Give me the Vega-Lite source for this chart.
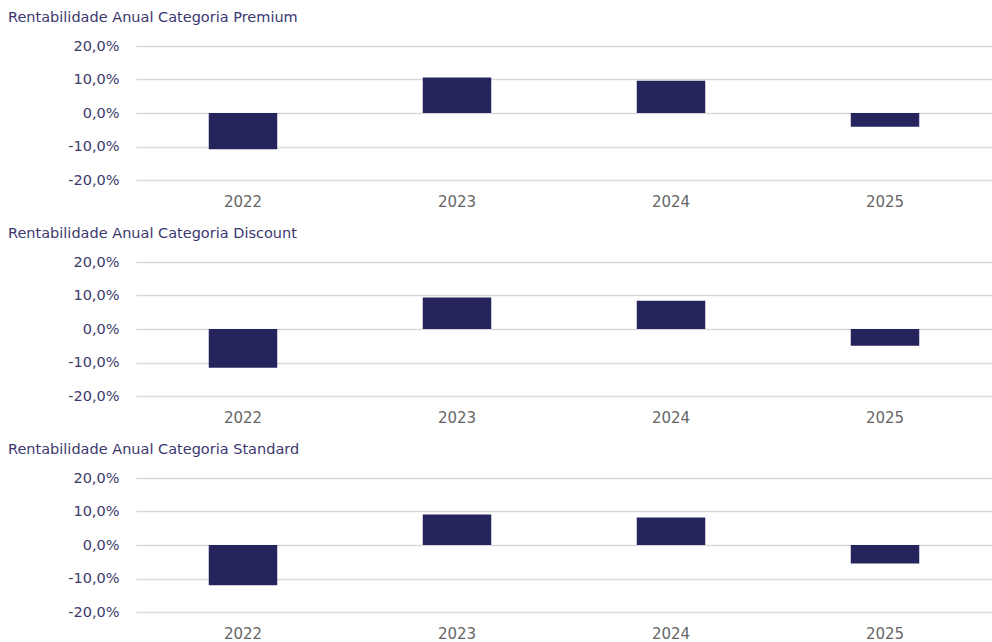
{
  "$schema": "https://vega.github.io/schema/vega-lite/v6.json",
  "padding": {"left": 8, "top": 9, "right": 0, "bottom": 0},
  "background": "white",
  "datasets": {
    "rent": [
      {"categoria": "Premium", "ano": "2022", "rentabilidade": -0.108},
      {"categoria": "Premium", "ano": "2023", "rentabilidade": 0.106},
      {"categoria": "Premium", "ano": "2024", "rentabilidade": 0.096},
      {"categoria": "Premium", "ano": "2025", "rentabilidade": -0.041},
      {"categoria": "Discount", "ano": "2022", "rentabilidade": -0.116},
      {"categoria": "Discount", "ano": "2023", "rentabilidade": 0.094},
      {"categoria": "Discount", "ano": "2024", "rentabilidade": 0.084},
      {"categoria": "Discount", "ano": "2025", "rentabilidade": -0.050},
      {"categoria": "Standard", "ano": "2022", "rentabilidade": -0.120},
      {"categoria": "Standard", "ano": "2023", "rentabilidade": 0.091},
      {"categoria": "Standard", "ano": "2024", "rentabilidade": 0.082},
      {"categoria": "Standard", "ano": "2025", "rentabilidade": -0.055}
    ]
  },
  "spacing": 16,
  "vconcat": [
    {
      "title": {"text": "Rentabilidade Anual Categoria Premium"},
      "data": {"name": "rent"},
      "transform": [{"filter": "datum.categoria === 'Premium'"}],
      "width": 856,
      "height": 134,
      "mark": {"type": "bar", "color": "#26245C", "width": {"band": 0.32}},
      "encoding": {
        "x": {"field": "ano", "type": "nominal", "sort": ["2022", "2023", "2024", "2025"], "scale": {"paddingInner": 0, "paddingOuter": 0}, "axis": {"title": null}},
        "y": {"field": "rentabilidade", "type": "quantitative", "scale": {"domain": [-0.2, 0.2], "nice": false}, "axis": {"title": null}}
      }
    },
    {
      "title": {"text": "Rentabilidade Anual Categoria Discount"},
      "data": {"name": "rent"},
      "transform": [{"filter": "datum.categoria === 'Discount'"}],
      "width": 856,
      "height": 134,
      "mark": {"type": "bar", "color": "#26245C", "width": {"band": 0.32}},
      "encoding": {
        "x": {"field": "ano", "type": "nominal", "sort": ["2022", "2023", "2024", "2025"], "scale": {"paddingInner": 0, "paddingOuter": 0}, "axis": {"title": null}},
        "y": {"field": "rentabilidade", "type": "quantitative", "scale": {"domain": [-0.2, 0.2], "nice": false}, "axis": {"title": null}}
      }
    },
    {
      "title": {"text": "Rentabilidade Anual Categoria Standard"},
      "data": {"name": "rent"},
      "transform": [{"filter": "datum.categoria === 'Standard'"}],
      "width": 856,
      "height": 134,
      "mark": {"type": "bar", "color": "#26245C", "width": {"band": 0.32}},
      "encoding": {
        "x": {"field": "ano", "type": "nominal", "sort": ["2022", "2023", "2024", "2025"], "scale": {"paddingInner": 0, "paddingOuter": 0}, "axis": {"title": null}},
        "y": {"field": "rentabilidade", "type": "quantitative", "scale": {"domain": [-0.2, 0.2], "nice": false}, "axis": {"title": null}}
      }
    }
  ],
  "config": {
    "font": "DejaVu Sans",
    "view": {"stroke": null},
    "title": {"anchor": "start", "frame": "group", "dx": -128, "fontSize": 14.5, "fontWeight": "normal", "color": "#3B3870", "baseline": "bottom", "offset": 13},
    "axisX": {"domain": false, "ticks": false, "grid": false, "labelAngle": 0, "labelFontSize": 15, "labelColor": "#666666", "labelPadding": 14},
    "axisY": {"domain": false, "ticks": false, "grid": true, "gridColor": "#D9D9D9", "gridWidth": 1.5, "values": [-0.2, -0.1, 0, 0.1, 0.2], "labelExpr": "replace(replace(format(datum.value, '.1%'), '.', ','), '\u2212', '-')", "labelFontSize": 14.5, "labelColor": "#3D3A6B", "labelPadding": 17}
  }
}
